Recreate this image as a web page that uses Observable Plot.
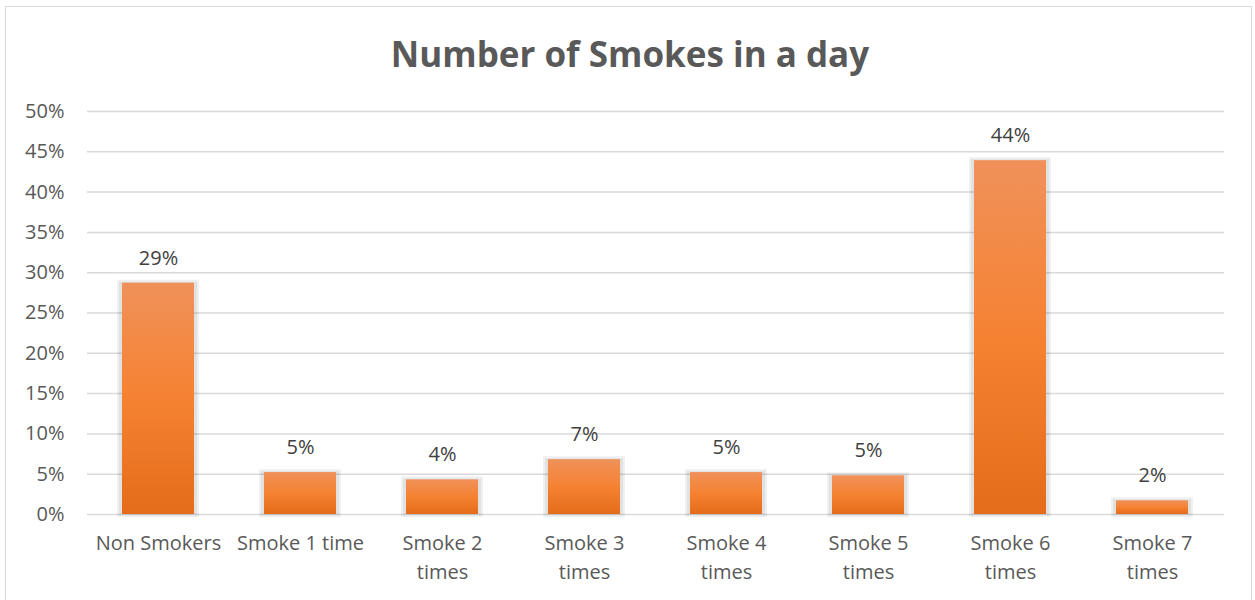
<!DOCTYPE html>
<html>
<head>
<meta charset="utf-8">
<script src="https://cdn.jsdelivr.net/npm/d3@7"></script>
<script src="https://cdn.jsdelivr.net/npm/@observablehq/plot@0.6"></script>
<style>
  html, body { margin: 0; padding: 0; background: #fff; }
  body { width: 1255px; height: 600px; position: relative; overflow: hidden; font-family: "Open Sans", sans-serif; }
  #frame { position: absolute; left: 5px; top: 6px; width: 1247px; height: 600px; border: 1px solid #d9d9d9; box-sizing: border-box; }
  #title { position: absolute; left: 0; top: 31px; width: 1260px; text-align: center; font-size: 35px; font-weight: bold; color: #595959; line-height: 46px; }
  #chart { position: absolute; left: 0; top: 0; }
</style>
</head>
<body>
<div id="frame"></div>
<div id="chart"></div>
<div id="title">Number of Smokes in a day</div>
<script>
const categories = ["Non Smokers", "Smoke 1 time", "Smoke 2 times", "Smoke 3 times", "Smoke 4 times", "Smoke 5 times", "Smoke 6 times", "Smoke 7 times"];
const tickLabels = ["Non Smokers", "Smoke 1 time", "Smoke 2\ntimes", "Smoke 3\ntimes", "Smoke 4\ntimes", "Smoke 5\ntimes", "Smoke 6\ntimes", "Smoke 7\ntimes"];
const values = [0.287, 0.052, 0.043, 0.068, 0.052, 0.048, 0.439, 0.017];
const valueLabels = ["29%", "5%", "4%", "7%", "5%", "5%", "44%", "2%"];
const yTicks = [0, 0.05, 0.10, 0.15, 0.20, 0.25, 0.30, 0.35, 0.40, 0.45, 0.50];

const data = categories.map((c, i) => ({cat: c, value: values[i], label: valueLabels[i]}));
const tickMap = new Map(categories.map((c, i) => [c, tickLabels[i]]));

const plot = Plot.plot({
  width: 1255,
  height: 600,
  marginLeft: 87,
  marginRight: 31,
  marginTop: 111,
  marginBottom: 86,
  style: {fontFamily: "'Open Sans', sans-serif", fontSize: "20px", color: "#595959", background: "transparent"},
  x: {domain: categories, paddingInner: 0.49, paddingOuter: 0.245, label: null},
  y: {domain: [0, 0.5], label: null},
  marks: [
    Plot.ruleY(yTicks, {stroke: "#d9d9d9", strokeWidth: 1.5}),
    Plot.axisY({ticks: yTicks, tickFormat: d => Math.round(d * 100) + "%", tickSize: 0, tickPadding: 23, fontSize: 20, fill: "#595959", label: null}),
    Plot.axisX({tickFormat: d => tickMap.get(d), tickSize: 0, tickPadding: 15, fontSize: 20, fill: "#595959", lineHeight: 1.45, label: null}),
    Plot.barY(data, {x: "cat", y: "value", fill: "#000", fillOpacity: 0.06, insetLeft: -5, insetRight: -5, insetTop: -3, insetBottom: -3}),
    Plot.barY(data, {x: "cat", y: "value", fill: "#000", fillOpacity: 0.06, insetLeft: -3, insetRight: -3, insetTop: -1, insetBottom: -1}),
    Plot.barY(data, {x: "cat", y: "value", fill: "url(#barGrad)"}),
    Plot.text(data, {x: "cat", y: "value", text: "label", dy: -25, fontSize: 20, fill: "#404040"})
  ]
});

const ns = "http://www.w3.org/2000/svg";
const defs = document.createElementNS(ns, "defs");
defs.innerHTML = `<linearGradient id="barGrad" x1="0" y1="0" x2="0" y2="1">
  <stop offset="0" stop-color="#F0915A"/>
  <stop offset="0.5" stop-color="#F58232"/>
  <stop offset="1" stop-color="#E46C1A"/>
</linearGradient>`;
plot.insertBefore(defs, plot.firstChild);
document.getElementById("chart").appendChild(plot);
</script>
</body>
</html>
